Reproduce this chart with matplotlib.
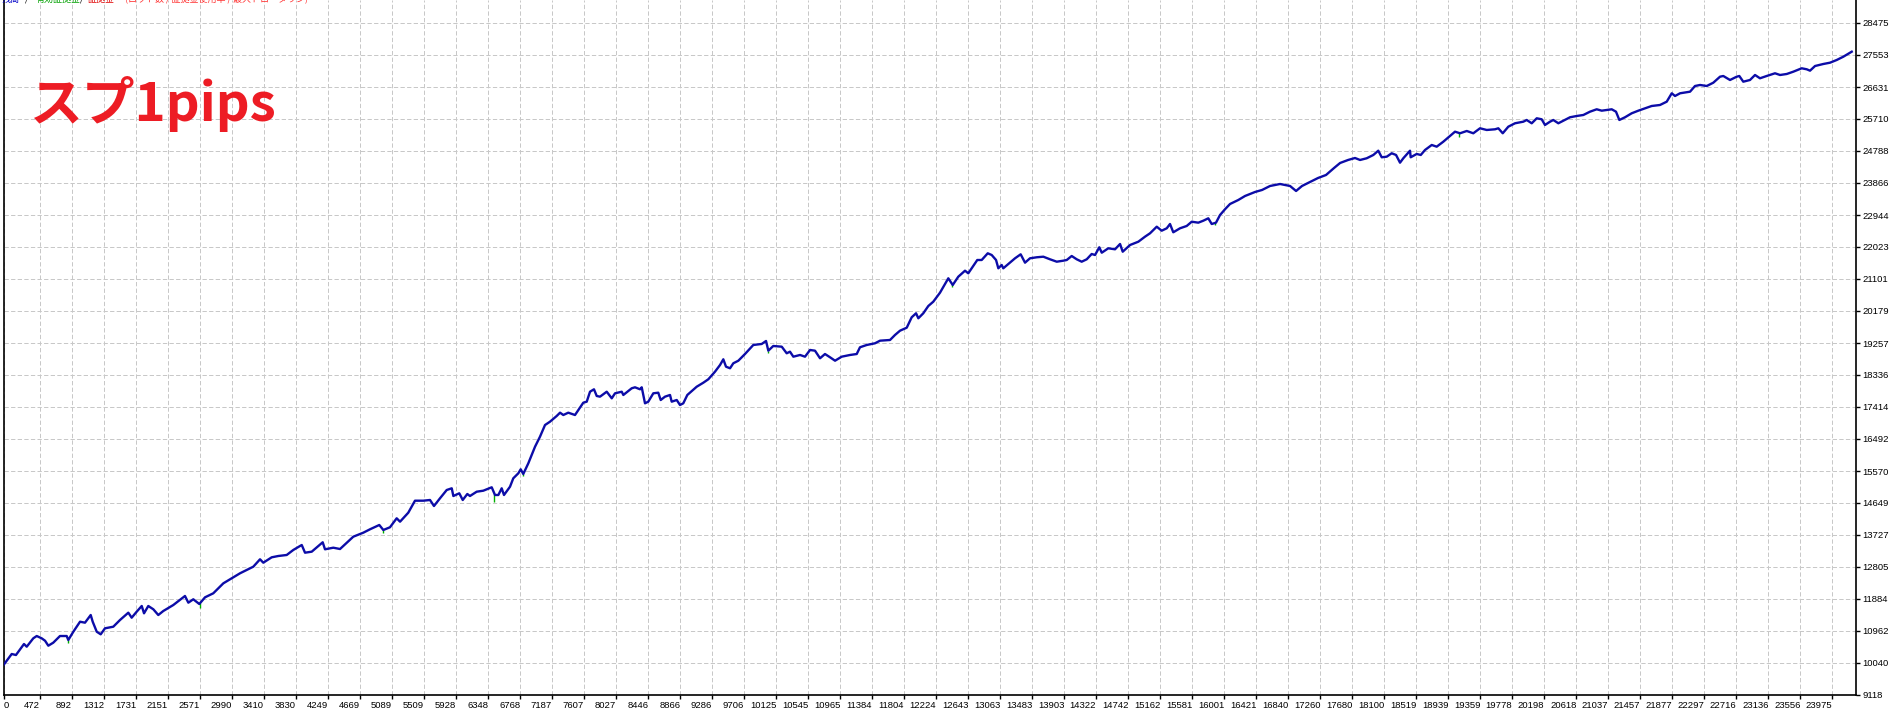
import numpy as np
import matplotlib
matplotlib.use("Agg")
import matplotlib.pyplot as plt

# balance curve (trade number, balance)
trades = [0, 101, 157, 262, 298, 384, 429, 494, 538, 581, 646, 734, 822, 843, 909, 997, 1062, 1137, 1163, 1216,
          1268, 1324, 1433, 1521, 1630, 1674, 1740, 1806, 1836, 1892, 1958, 2023, 2089, 2220, 2373, 2417, 2482, 2561, 2636, 2744,
          2876, 2963, 3095, 3269, 3357, 3400, 3510, 3597, 3707, 3793, 3904, 3947, 4035, 4179, 4209, 4318, 4406, 4580, 4711, 4799,
          4921, 4974, 5061, 5149, 5193, 5301, 5389, 5498, 5586, 5638, 5717, 5805, 5871, 5892, 5970,
          6015, 6075, 6110, 6198, 6285, 6395, 6438, 6482, 6526, 6556, 6635, 6678, 6744, 6775, 6809, 6875, 6963, 7028, 7094, 7159,
          7247, 7291, 7334, 7399, 7487, 7531, 7596, 7641, 7684, 7736, 7772, 7815, 7903, 7969, 8012, 8100, 8121, 8231, 8274, 8340,
          8362, 8405, 8448, 8514, 8579, 8611, 8667, 8733, 8755, 8821, 8864, 8907, 8960, 9083, 9170, 9235, 9323, 9389, 9432, 9467,
          9520, 9563, 9629, 9716, 9825, 9935, 9992, 10022, 10087, 10198, 10263, 10306, 10350, 10438, 10503, 10569, 10634, 10700, 10765, 10831,
          10897, 10984, 11093, 11181, 11224, 11312, 11421, 11487, 11618, 11683, 11749,
          11837, 11902, 11959, 11989, 12054, 12120, 12185, 12273, 12382, 12440, 12513, 12601, 12644, 12689, 12762, 12820, 12899, 12951, 13008, 13038,
          13082, 13103, 13169, 13257, 13331, 13388, 13453, 13541, 13628, 13716, 13804, 13890, 13935, 14000, 14066, 14131, 14197, 14262, 14306, 14362,
          14394, 14480, 14568, 14634, 14669, 14765, 14874, 14961, 15027, 15115, 15180, 15246, 15289, 15332, 15420, 15508, 15574, 15660, 15726, 15791,
          15836, 15892, 15945, 16010, 16076, 16185,
          16273, 16404, 16496, 16601, 16732, 16863, 16942, 17020, 17125, 17230, 17335, 17440, 17519, 17624, 17715,
          17781, 17868, 17955, 18020, 18065, 18131, 18196, 18253, 18305, 18348, 18436, 18445, 18524, 18577, 18633, 18721, 18786, 18873, 18961, 19026,
          19092, 19180, 19266, 19354, 19442, 19551, 19594, 19652, 19725, 19813, 19922, 19966, 20032, 20098, 20163, 20206, 20272, 20315, 20381, 20446,
          20534, 20622, 20709, 20796, 20884, 20950, 21015, 21081, 21137, 21181, 21255, 21343, 21430, 21518, 21605, 21714, 21802, 21868, 21911, 21977,
          22108, 22173, 22239, 22327, 22413, 22501, 22544, 22632, 22720, 22754, 22806, 22894, 22960, 23025, 23113, 23222, 23288, 23376, 23462, 23572,
          23638, 23681, 23747, 23856, 23943, 24031, 24118, 24228]

balance = [10000, 10299, 10270, 10587, 10509, 10751, 10817, 10751, 10682, 10538, 10625, 10817, 10817, 10702, 10941, 11229, 11201, 11422, 11229, 10941,
           10866, 11039, 11085, 11278, 11489, 11345, 11518, 11682, 11471, 11682, 11587, 11422, 11538, 11710, 11970, 11777, 11875, 11739, 11932, 12047,
           12335, 12451, 12624, 12814, 13027, 12929, 13084, 13122, 13151, 13295, 13439, 13217, 13246, 13517, 13315, 13361, 13323, 13678, 13793, 13891,
           14015, 13871, 13949, 14208, 14110, 14369, 14715, 14715, 14735, 14562, 14784, 15023, 15072, 14850, 14928,
           14735, 14908, 14850, 14974, 15003, 15101, 14879, 14879, 15072, 14879, 15118, 15360, 15504, 15619, 15484, 15792, 16270, 16558, 16895, 16990,
           17155, 17250, 17183, 17250, 17183, 17327, 17538, 17567, 17854, 17924, 17731, 17711, 17854, 17664, 17808, 17854, 17760, 17953, 17981, 17924,
           17981, 17520, 17567, 17808, 17826, 17615, 17711, 17760, 17567, 17615, 17471, 17520, 17760, 17998, 18114, 18212, 18431, 18624, 18788, 18575,
           18529, 18673, 18747, 18940, 19200, 19229, 19315, 19036, 19171, 19151, 18961, 19007, 18863, 18912, 18863, 19056, 19036, 18817, 18940, 18846,
           18747, 18863, 18912, 18940, 19134, 19200, 19249, 19324, 19344, 19488, 19612,
           19698, 19998, 20113, 19969, 20113, 20323, 20447, 20706, 21121, 20928, 21167, 21340, 21265, 21409, 21648, 21648, 21841, 21792, 21648, 21409,
           21504, 21409, 21533, 21697, 21812, 21571, 21697, 21726, 21743, 21668, 21599, 21628, 21648, 21763, 21668, 21599, 21668, 21821, 21792, 22014,
           21858, 21985, 21956, 22109, 21887, 22080, 22175, 22319, 22417, 22607, 22492, 22561, 22685, 22446, 22561, 22628, 22751, 22723, 22780, 22849,
           22685, 22723, 22944, 23109, 23261, 23377,
           23492, 23607, 23665, 23780, 23837, 23780, 23636, 23780, 23895, 24010, 24097, 24298, 24442, 24529, 24586,
           24529, 24578, 24673, 24796, 24607, 24624, 24722, 24673, 24451, 24578, 24796, 24607, 24702, 24673, 24817, 24961, 24912, 25056, 25220, 25344,
           25298, 25364, 25298, 25442, 25393, 25413, 25442, 25298, 25488, 25586, 25632, 25681, 25586, 25730, 25701, 25537, 25632, 25681, 25586, 25661,
           25759, 25796, 25825, 25920, 25989, 25949, 25969, 25989, 25920, 25681, 25759, 25874, 25949, 26018, 26084, 26113, 26208, 26450, 26372, 26450,
           26496, 26660, 26689, 26660, 26755, 26928, 26948, 26833, 26928, 26948, 26784, 26833, 26977, 26882, 26948, 27026, 26977, 27006, 27072, 27170,
           27141, 27101, 27236, 27294, 27331, 27409, 27504, 27648]

# equity dips (green) below the balance line
dip_trades = [843, 2570, 4966, 6430, 6809, 10022, 12435, 15880, 19075]
dip_equity = [10616, 11616, 13775, 14686, 15426, 18978, 20879, 22656, 25182]

x_ticks = [0, 472, 892, 1312, 1731, 2151, 2571, 2990, 3410, 3830, 4249, 4669, 5089, 5509, 5928, 6348, 6768, 7187,
           7607, 8027, 8446, 8866, 9286, 9706, 10125, 10545, 10965, 11384, 11804, 12224, 12643, 13063, 13483, 13903,
           14322, 14742, 15162, 15581, 16001, 16421, 16840, 17260, 17680, 18100, 18519, 18939, 19359, 19778, 20198,
           20618, 21037, 21457, 21877, 22297, 22716, 23136, 23556, 23975]
y_ticks = [9118, 10040, 10962, 11884, 12805, 13727, 14649, 15570, 16492, 17414, 18336, 19257, 20179, 21101,
           22023, 22944, 23866, 24788, 25710, 26631, 27553, 28475]

W, H = 1890, 711
fig = plt.figure(figsize=(W / 100, H / 100), dpi=100)
fig.patch.set_facecolor("white")
ax = fig.add_axes([4 / W, 16 / H, 1852 / W, 695 / H])
ax.set_xlim(0, 24284)
ax.set_ylim(9118, 29137)

ax.grid(True, color="#c8c8c8", linestyle=(0, (4.3, 2.3)), linewidth=0.72)
ax.set_axisbelow(True)

top = np.interp(dip_trades, trades, balance)
ax.vlines(dip_trades, dip_equity, top, color="#00b000", lw=1.0, zorder=2)
ax.plot(trades, balance, color="#0c0ca8", lw=1.7, zorder=3)

ax.spines["top"].set_visible(False)
for s in ["left", "right", "bottom"]:
    ax.spines[s].set_linewidth(1.2)
    ax.spines[s].set_color("black")

ax.yaxis.tick_right()
ax.set_yticks(y_ticks)
ax.set_yticklabels([str(v) for v in y_ticks])
ax.set_xticks(x_ticks)
ax.set_xticklabels([str(v) for v in x_ticks])
ax.tick_params(axis="both", length=3, width=1, direction="out", pad=1.5,
               labelsize=6.8, colors="black")
for lbl in ax.get_xticklabels() + ax.get_yticklabels():
    lbl.set_fontfamily("Liberation Sans")
xl = ax.get_xticklabels()
for lbl in xl:
    lbl.set_ha("right")
xl[0].set_ha("left")

# header legend (mostly cut off at the top edge, as in the tester window)
hy = 1 - 3.5 / H
hdr = [("残高", "#0000c8", 2), ("/", "black", 25), ("有効証拠金", "#00a000", 36), ("/", "black", 80),
       ("証拠金", "#e00000", 88), ("(ロット数 / 証拠金使用率 / 最大ドローダウン)", "#ff3030", 125)]
for txt, col, xp in hdr:
    fig.text(xp / W, hy, txt, color=col, fontsize=6.5, va="bottom", ha="left",
             family=["Noto Sans CJK JP", "DejaVu Sans"])

fig.text(30 / W, 1 - 121 / H, "スプ1pips", color="#ed1c24", fontsize=38, fontweight="bold",
         va="baseline", ha="left", family=["Noto Sans CJK JP", "DejaVu Sans"])

fig.savefig("out.png", dpi=100, facecolor="white")
